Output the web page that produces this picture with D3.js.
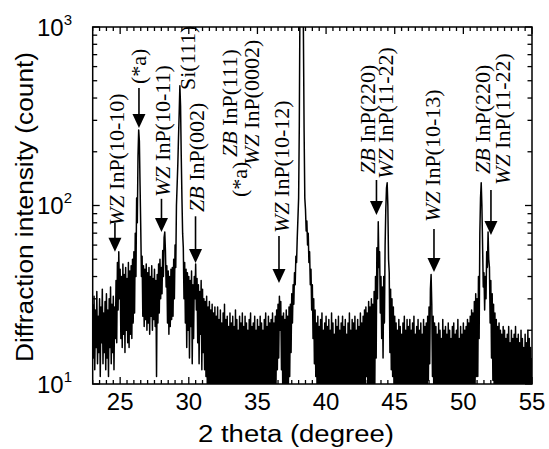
<!DOCTYPE html>
<html>
<head>
<meta charset="utf-8">
<script src="https://cdn.jsdelivr.net/npm/d3@7"></script>
<style>
  html, body { margin: 0; padding: 0; background: #fff; }
  svg { display: block; }
</style>
</head>
<body>
<svg id="chart" width="549" height="449"></svg>
<script>
// XRD scan: 2-theta from 23 to 55 degrees, 0.05 degree sampling
const angleStart = 23;
const angleStep = 0.05;

// Counts, one row per degree (20 samples each)
const counts = [
  /* 23 */ 28,14,31,12,26,16,33,13,24,15,30,11,27,17,34,13,25,15,29,12,
  /* 24 */ 32,14,26,11,30,16,35,13,28,15,31,12,27,18,38,17,48,26,55,30,
  /* 25 */ 44,18,40,16,47,19,41,15,45,20,39,17,48,16,43,19,46,18,50,22,
  /* 26 */ 55,25,70,40,110,80,190,265,230,130,75,40,52,24,46,21,44,23,47,20,
  /* 27 */ 42,22,45,19,40,24,46,20,39,23,44,21,38,11,41,22,47,25,50,30,
  /* 28 */ 45,32,56,40,66,71,55,35,46,22,43,19,40,21,44,23,45,24,50,30,
  /* 29 */ 60,45,100,130,170,240,330,468,360,190,110,70,58,30,48,22,44,16,42,20,
  /* 30 */ 40,14,38,21,43,13,36,18,40,30,47,26,39,17,36,13,33,19,38,12,
  /* 31 */ 34,15,30,12,29,11,31,9,27,8,29,7,26,9,28,8,25,7,27,9,
  /* 32 */ 24,8,27,7,23,9,26,6,22,8,25,7,28,9,23,6,24,8,21,7,
  /* 33 */ 25,8,22,9,24,7,21,6,26,8,23,7,20,9,24,8,22,6,25,7,
  /* 34 */ 21,7,24,8,22,9,20,6,23,7,25,8,21,7,22,9,24,6,20,8,
  /* 35 */ 23,7,21,8,24,6,22,9,20,7,23,8,25,7,21,9,24,8,22,7,
  /* 36 */ 23,8,25,7,22,9,24,9.5,26,12,28,14,31,20,29,12,24,8,25,7,
  /* 37 */ 23,9,26,8,24,9,27,11,28,15,32,22,36,28,42,36,52,48,66,85,
  /* 38 */ 110,280,1500,4000,5200,3500,2200,900,260,110,95,72,82,60,70,48,55,36,44,26,
  /* 39 */ 36,18,30,13,26,11,22,8,24,7,21,9,23,6,25,8,20,7,22,9,
  /* 40 */ 24,7,21,8,23,6,20,9,25,7,22,8,19,7,23,9,21,6,24,8,
  /* 41 */ 20,7,22,9,24,8,21,6,23,7,19,8,22,9,25,7,20,8,23,6,
  /* 42 */ 22,8,24,7,20,9,23,6,21,8,25,7,22,9,24,8,26,8,27,11,
  /* 43 */ 25,8,29,9,27,8,30,9,28,9,33,9.5,40,14,58,30,81,45,55,25,
  /* 44 */ 40,18,35,14,40,22,60,95,125,134,100,50,42,15,34,12,30,11,27,9,
  /* 45 */ 24,8,22,7,20,9,23,6,21,8,19,7,22,9,24,7,20,8,23,6,
  /* 46 */ 21,7,23,9,20,8,22,6,24,7,19,9,21,8,23,7,20,6,22,8,
  /* 47 */ 19,7,23,8,21,9,22,6,24,10.5,27,13,34,41,28,11,24,8,22,7,
  /* 48 */ 21,8,19,7,22,6,20,9,18,7,23,8,20,6,21,9,19,7,22,8,
  /* 49 */ 20,7,18,9,21,6,22,8,19,7,20,9,23,6,18,8,21,7,19,9,
  /* 50 */ 22,7,20,8,21,6,23,9,22,8,24,7,26,9,25,8,29,9,32,11,
  /* 51 */ 30,11,40,18,70,110,134,100,60,35,42,26,40,30,55,45,71,50,45,22,
  /* 52 */ 38,14,32,10.5,28,8,25,9,23,7,21,8,22,6,20,9,19,7,21,8,
  /* 53 */ 20,7,18,8,19,6,21,9,17,7,20,8,18,6,19,9,21,7,18,8,
  /* 54 */ 19,8,17,6,20,9,18,7,16,8,19,6,17,9,20,7,18,8,16,7,
  /* 55 */ 14
];

const xTickValues = [25, 30, 35, 40, 45, 50, 55];
const yTickExponents = [1, 2, 3];

// Peak markers: arrow position (degree), tail and tip heights (counts)
const arrowAngles = [24.62, 26.37, 28.01, 30.49, 36.57, 43.67, 47.86, 52.01];
const arrowTips   = [55, 272, 71, 47.6, 36.8, 88.5, 42.4, 68.4];
const arrowTails  = [80, 455, 109, 87, 67.5, 139, 73.8, 122];

// Peak assignments (italic phase prefix + reflection)
const labelPhases = ["WZ", "", "WZ", "", "ZB", "", "ZB", "WZ", "WZ", "ZB", "WZ", "WZ", "ZB", "WZ"];
const labelTexts  = [" InP(10-10)", "(*a)", " InP(10-11)", "Si(111)", " InP(002)", "(*a)",
                     " InP(111)", " InP(0002)", " InP(10-12)", " InP(220)", " InP(11-22)",
                     " InP(10-13)", " InP(220)", " InP(11-22)"];
// column centre (px) and the y where each vertical label starts
const labelCols   = [118, 140, 164, 189, 198, 241, 231, 253, 283, 369, 387, 434, 484, 504];
const labelStarts = [226, 84, 197, 90, 212, 197, 157, 165, 233, 174, 179, 222, 174, 185];

const svg = d3.select("#chart");
const plot = { left: 92.7, right: 532, top: 27, bottom: 384 };

const x = d3.scaleLinear().domain([23, 55]).range([plot.left, plot.right]);
const y = d3.scaleLog().domain([10, 1000]).range([plot.bottom, plot.top]);

const scan = counts.map((c, i) => [angleStart + i * angleStep, c]);

svg.append("defs").append("clipPath").attr("id", "plotClip")
  .append("rect")
  .attr("x", plot.left).attr("y", plot.top)
  .attr("width", plot.right - plot.left).attr("height", plot.bottom - plot.top);

svg.append("path")
  .datum(scan)
  .attr("clip-path", "url(#plotClip)")
  .attr("fill", "none")
  .attr("stroke", "#000")
  .attr("stroke-width", 1.5)
  .attr("stroke-linejoin", "round")
  .attr("d", d3.line().x(d => x(d[0])).y(d => y(d[1])));

// Frame and inward ticks on all four sides
const axes = svg.append("g").attr("stroke", "#000").attr("stroke-width", 1.3);
const xMinor = d3.range(23, 55.001, 0.5).filter(v => v % 5 !== 0);
const yMinor = [];
[10, 100].forEach(base => { for (let k = 2; k <= 9; k++) yMinor.push(base * k); });

xTickValues.forEach(v => {
  axes.append("line").attr("x1", x(v)).attr("x2", x(v)).attr("y1", plot.bottom).attr("y2", plot.bottom - 7);
  axes.append("line").attr("x1", x(v)).attr("x2", x(v)).attr("y1", plot.top).attr("y2", plot.top + 7);
});
xMinor.forEach(v => {
  axes.append("line").attr("x1", x(v)).attr("x2", x(v)).attr("y1", plot.bottom).attr("y2", plot.bottom - 4);
  axes.append("line").attr("x1", x(v)).attr("x2", x(v)).attr("y1", plot.top).attr("y2", plot.top + 4);
});
yTickExponents.forEach(e => {
  const v = Math.pow(10, e);
  axes.append("line").attr("x1", plot.left).attr("x2", plot.left + 7).attr("y1", y(v)).attr("y2", y(v));
  axes.append("line").attr("x1", plot.right).attr("x2", plot.right - 7).attr("y1", y(v)).attr("y2", y(v));
});
yMinor.forEach(v => {
  axes.append("line").attr("x1", plot.left).attr("x2", plot.left + 4.5).attr("y1", y(v)).attr("y2", y(v));
  axes.append("line").attr("x1", plot.right).attr("x2", plot.right - 4.5).attr("y1", y(v)).attr("y2", y(v));
});
axes.append("rect")
  .attr("x", plot.left).attr("y", plot.top)
  .attr("width", plot.right - plot.left).attr("height", plot.bottom - plot.top)
  .attr("fill", "none").attr("stroke-width", 1.5);

const sans = "'Liberation Sans', Arial, Helvetica, sans-serif";
const serif = "'Liberation Serif', 'Times New Roman', Times, serif";

// x tick labels
svg.append("g").selectAll("text").data(xTickValues).join("text")
  .attr("x", d => x(d)).attr("y", 410)
  .attr("text-anchor", "middle")
  .attr("font-family", sans).attr("font-size", 24)
  .text(d => d);

// y tick labels as powers of ten
const yl = svg.append("g").attr("font-family", sans);
yTickExponents.forEach(e => {
  const t = yl.append("text")
    .attr("x", 72).attr("y", y(Math.pow(10, e)) + 8.5)
    .attr("text-anchor", "end").attr("font-size", 24);
  t.append("tspan").text("10");
  t.append("tspan").attr("dy", -11).attr("font-size", 15).text(e);
});

// axis titles
svg.append("text")
  .attr("x", 198).attr("y", 442)
  .attr("font-family", sans).attr("font-size", 23)
  .attr("textLength", 196).attr("lengthAdjust", "spacingAndGlyphs")
  .text("2 theta (degree)");

svg.append("text")
  .attr("transform", "translate(33,362) rotate(-90)")
  .attr("font-family", sans).attr("font-size", 23)
  .attr("textLength", 310).attr("lengthAdjust", "spacingAndGlyphs")
  .text("Diffraction intensity (count)");

// vertical peak labels
const lab = svg.append("g").attr("font-family", serif).attr("font-size", 22);
labelTexts.forEach((txt, i) => {
  const t = lab.append("text")
    .attr("transform", `translate(${labelCols[i] + 6},${labelStarts[i]}) rotate(-90)`);
  if (labelPhases[i]) t.append("tspan").attr("font-style", "italic").text(labelPhases[i]);
  t.append("tspan").text(txt);
});

// arrows pointing down at peaks
const ar = svg.append("g");
arrowAngles.forEach((a, i) => {
  const ax = x(a), tip = y(arrowTips[i]), tail = y(arrowTails[i]);
  ar.append("line").attr("x1", ax).attr("x2", ax).attr("y1", tail).attr("y2", tip - 12)
    .attr("stroke", "#000").attr("stroke-width", 1.6);
  ar.append("path")
    .attr("d", `M${ax - 6.5},${tip - 14} L${ax + 6.5},${tip - 14} L${ax},${tip} Z`)
    .attr("fill", "#000");
});
</script>
</body>
</html>
